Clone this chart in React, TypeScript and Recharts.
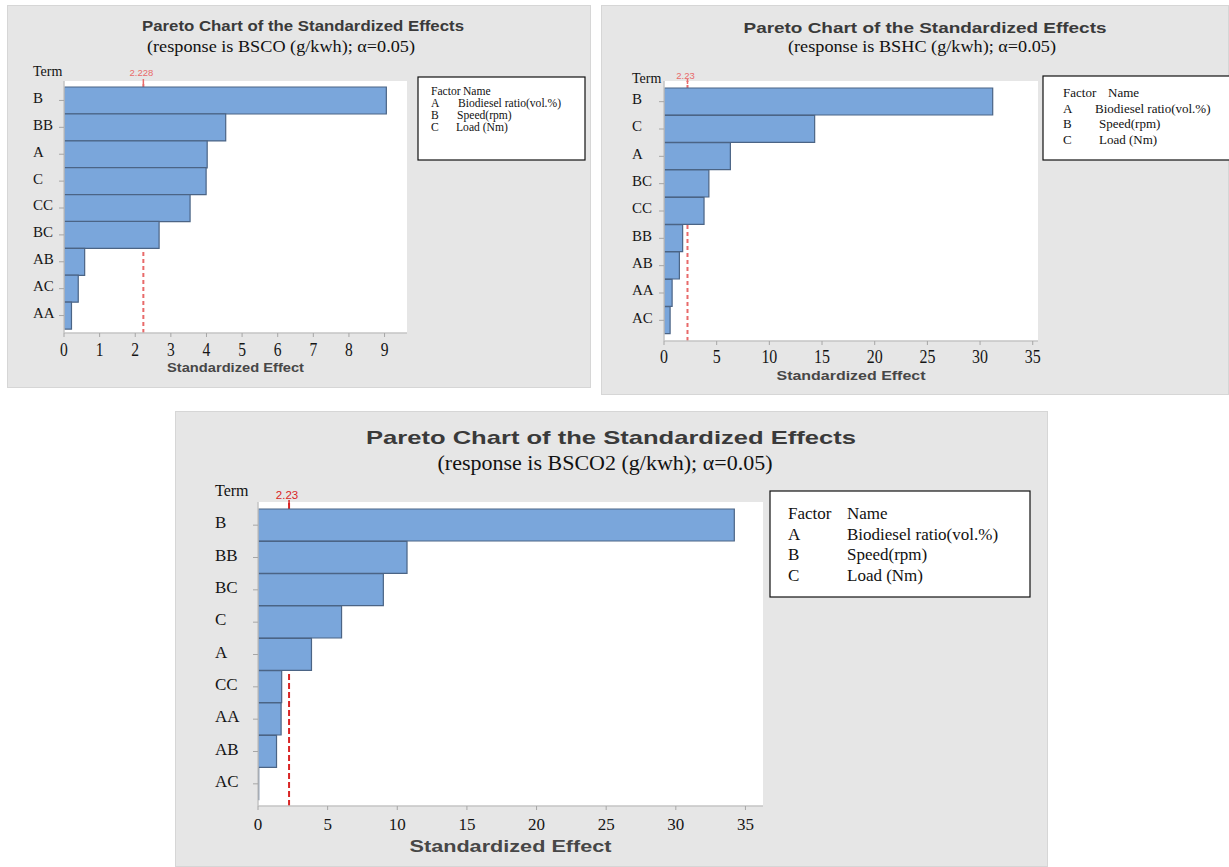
import React from 'react';
import { BarChart, Bar, XAxis, YAxis, ReferenceLine, CartesianGrid, Label } from 'recharts';

// Standardized effects per response, sorted from largest to smallest
const bscoTerms = ['B', 'BB', 'A', 'C', 'CC', 'BC', 'AB', 'AC', 'AA'];
const bscoEffects = [9.05, 4.54, 4.02, 3.99, 3.54, 2.67, 0.58, 0.4, 0.21];

const bshcTerms = ['B', 'C', 'A', 'BC', 'CC', 'BB', 'AB', 'AA', 'AC'];
const bshcEffects = [31.2, 14.3, 6.3, 4.26, 3.8, 1.77, 1.46, 0.77, 0.58];

const bsco2Terms = ['B', 'BB', 'BC', 'C', 'A', 'CC', 'AA', 'AB', 'AC'];
const bsco2Effects = [34.2, 10.7, 9.0, 6.0, 3.84, 1.7, 1.66, 1.33, 0.05];

const ticksSmall = [0, 1, 2, 3, 4, 5, 6, 7, 8, 9];
const ticksLarge = [0, 5, 10, 15, 20, 25, 30, 35];

const factorCodes = ['A', 'B', 'C'];
const factorNames = ['Biodiesel ratio(vol.%)', 'Speed(rpm)', 'Load (Nm)'];

const SERIF = '"Liberation Serif", "Times New Roman", serif';
const SANS = '"Liberation Sans", Arial, sans-serif';
const FRAME = '#c4c4c4';
const TICK = '#a6a6a6';
const BAR_FILL = '#7aa6db';
const BAR_EDGE = '#4b6485';

type Layout = {
  box: { left: number; top: number; width: number; height: number };
  plot: { left: number; top: number; right: number; bottom: number; padTop: number; padBottom: number };
  axisTitle: { baseline: number; size: number; length: number };
  xTick: { size: number; scaleX: number; baseline: number };
  yTick: { x: number; size: number; lift: number };
  title: { cx: number; baseline: number; size: number; length: number };
  subtitle: { cx: number; baseline: number; size: number; length: number };
  term: { x: number; baseline: number; size: number };
  legend: {
    x: number; y: number; width: number; height: number; size: number;
    codeX: number; headerNameX: number; nameX: number[]; rows: number[];
  };
  critical: { color: string; dash: string; width: number; labelSize: number; labelGap: number };
};

type PanelProps = {
  response: string;
  terms: string[];
  effects: number[];
  ticks: number[];
  xMax: number;
  critical: number;
  criticalText: string;
  layout: Layout;
};

function ParetoPanel({ response, terms, effects, ticks, xMax, critical, criticalText, layout }: PanelProps) {
  const { box, plot, axisTitle, xTick, yTick, title, subtitle, term, legend } = layout;
  const crit = layout.critical;
  const rows = terms.map((t, i) => ({ term: t, effect: effects[i] }));

  const renderXTick = (p: any) => (
    <text
      transform={`translate(${p.x},${p.y + xTick.baseline}) scale(${xTick.scaleX},1)`}
      textAnchor="middle"
      fontFamily={SERIF}
      fontSize={xTick.size}
      fill="#151515"
    >
      {p.payload.value}
    </text>
  );

  const renderYTick = (p: any) => (
    <text
      x={yTick.x}
      y={p.y + yTick.size * 0.33 - yTick.lift}
      textAnchor="start"
      fontFamily={SERIF}
      fontSize={yTick.size}
      fill="#151515"
    >
      {p.payload.value}
    </text>
  );

  const renderAxisTitle = (p: any) => {
    const vb = p.viewBox;
    return (
      <text
        x={vb.x + vb.width / 2}
        y={vb.y + vb.height}
        textAnchor="middle"
        fontFamily={SANS}
        fontWeight="bold"
        fontSize={axisTitle.size}
        fill="#474747"
        textLength={axisTitle.length}
        lengthAdjust="spacingAndGlyphs"
      >
        Standardized Effect
      </text>
    );
  };

  const renderCriticalLabel = (p: any) => {
    const vb = p.viewBox;
    return (
      <g>
        <line x1={vb.x} x2={vb.x} y1={vb.y - 2} y2={vb.y + 3} stroke={crit.color} strokeWidth={1.5} />
        <text
          x={vb.x - 2}
          y={vb.y - crit.labelGap}
          textAnchor="middle"
          fontFamily={SANS}
          fontSize={crit.labelSize}
          fill={crit.color}
        >
          {criticalText}
        </text>
      </g>
    );
  };

  return (
    <div
      style={{
        position: 'absolute',
        left: box.left,
        top: box.top,
        width: box.width,
        height: box.height,
        background: '#e6e6e6',
        boxShadow: 'inset 0 0 0 1px #d6d6d6',
        overflow: 'hidden',
      }}
    >
      <svg width={box.width} height={box.height} style={{ position: 'absolute', left: 0, top: 0 }}>
        <text
          x={title.cx}
          y={title.baseline}
          textAnchor="middle"
          fontFamily={SANS}
          fontWeight="bold"
          fontSize={title.size}
          fill="#3a3a3a"
          textLength={title.length}
          lengthAdjust="spacingAndGlyphs"
        >
          Pareto Chart of the Standardized Effects
        </text>
        <text
          x={subtitle.cx}
          y={subtitle.baseline}
          textAnchor="middle"
          fontFamily={SERIF}
          fontSize={subtitle.size}
          fill="#111"
          textLength={subtitle.length}
          lengthAdjust="spacingAndGlyphs"
        >
          {`(response is ${response}; α=0.05)`}
        </text>
        <text x={term.x} y={term.baseline} fontFamily={SERIF} fontSize={term.size} fill="#111">
          Term
        </text>
        <rect
          x={legend.x}
          y={legend.y}
          width={legend.width}
          height={legend.height}
          fill="#fff"
          stroke="#111"
          strokeWidth={1.2}
        />
        <text x={legend.codeX} y={legend.rows[0]} fontFamily={SERIF} fontSize={legend.size} fill="#111">
          Factor
        </text>
        <text x={legend.headerNameX} y={legend.rows[0]} fontFamily={SERIF} fontSize={legend.size} fill="#111">
          Name
        </text>
        {factorCodes.map((code, i) => (
          <g key={code}>
            <text x={legend.codeX} y={legend.rows[i + 1]} fontFamily={SERIF} fontSize={legend.size} fill="#111">
              {code}
            </text>
            <text x={legend.nameX[i]} y={legend.rows[i + 1]} fontFamily={SERIF} fontSize={legend.size} fill="#111">
              {factorNames[i]}
            </text>
          </g>
        ))}
      </svg>
      <div style={{ position: 'absolute', left: 0, top: 0 }}>
        <BarChart
          width={box.width}
          height={box.height}
          data={rows}
          layout="vertical"
          barCategoryGap={0}
          barGap={0}
          margin={{
            top: plot.top,
            right: box.width - plot.right,
            bottom: box.height - axisTitle.baseline,
            left: 0,
          }}
        >
          <CartesianGrid horizontal={false} vertical={false} fill="#ffffff" fillOpacity={1} />
          <XAxis
            type="number"
            domain={[0, xMax]}
            ticks={ticks}
            interval={0}
            allowDataOverflow
            height={axisTitle.baseline - plot.bottom}
            tickSize={4}
            tickMargin={2}
            axisLine={{ stroke: FRAME, strokeWidth: 1.5 }}
            tickLine={{ stroke: TICK }}
            tick={renderXTick}
          >
            <Label content={renderAxisTitle} />
          </XAxis>
          <XAxis
            xAxisId="frame"
            orientation="top"
            type="number"
            domain={[0, xMax]}
            height={0}
            tick={false}
            tickLine={false}
            axisLine={{ stroke: FRAME, strokeWidth: 1.5 }}
          />
          <YAxis
            type="category"
            dataKey="term"
            width={plot.left}
            padding={{ top: plot.padTop, bottom: plot.padBottom }}
            interval={0}
            tickSize={5}
            tickMargin={2}
            axisLine={{ stroke: FRAME, strokeWidth: 1.5 }}
            tickLine={{ stroke: TICK }}
            tick={renderYTick}
          />
          <YAxis
            yAxisId="frame"
            orientation="right"
            type="category"
            dataKey="term"
            width={0}
            tick={false}
            tickLine={false}
            axisLine={{ stroke: FRAME, strokeWidth: 1.5 }}
          />
          <ReferenceLine
            x={critical}
            stroke={crit.color}
            strokeWidth={crit.width}
            strokeDasharray={crit.dash}
            zIndex={-50}
            label={renderCriticalLabel}
          />
          <Bar
            dataKey="effect"
            fill={BAR_FILL}
            stroke={BAR_EDGE}
            strokeWidth={1.2}
            isAnimationActive={false}
          />
        </BarChart>
      </div>
    </div>
  );
}

const bscoLayout: Layout = {
  box: { left: 7, top: 5, width: 584, height: 383 },
  plot: { left: 57, top: 76, right: 400, bottom: 328, padTop: 6, padBottom: 4 },
  axisTitle: { baseline: 367, size: 12, length: 137 },
  xTick: { size: 19, scaleX: 0.82, baseline: 17.4 },
  yTick: { x: 26, size: 15, lift: 2.5 },
  title: { cx: 296, baseline: 26, size: 15, length: 322 },
  subtitle: { cx: 274, baseline: 46.5, size: 17, length: 268 },
  term: { x: 26, baseline: 70.5, size: 14 },
  legend: {
    x: 411, y: 72, width: 167, height: 83, size: 11.6,
    codeX: 424, headerNameX: 456, nameX: [451, 450, 449], rows: [90, 102, 114, 126],
  },
  critical: { color: '#e86a6a', dash: '4 3', width: 2, labelSize: 9.5, labelGap: 4.6 },
};

const bshcLayout: Layout = {
  box: { left: 601, top: 5, width: 628, height: 390 },
  plot: { left: 63, top: 76, right: 437, bottom: 336, padTop: 7, padBottom: 7 },
  axisTitle: { baseline: 375, size: 13, length: 149 },
  xTick: { size: 19, scaleX: 0.84, baseline: 16.4 },
  yTick: { x: 31, size: 15, lift: 2.5 },
  title: { cx: 324, baseline: 27.5, size: 15.4, length: 363 },
  subtitle: { cx: 321, baseline: 46.5, size: 17, length: 268 },
  term: { x: 31, baseline: 77.5, size: 14 },
  legend: {
    x: 442, y: 71, width: 250, height: 84, size: 13,
    codeX: 462, headerNameX: 507, nameX: [494, 498, 498], rows: [91.5, 107.5, 122.5, 138.5],
  },
  critical: { color: '#e86a6a', dash: '4 3', width: 2, labelSize: 9.5, labelGap: 2.5 },
};

const bsco2Layout: Layout = {
  box: { left: 175, top: 411, width: 873, height: 456 },
  plot: { left: 83, top: 91, right: 588, bottom: 395, padTop: 7, padBottom: 6 },
  axisTitle: { baseline: 441, size: 16, length: 202 },
  xTick: { size: 17, scaleX: 1, baseline: 17.8 },
  yTick: { x: 40, size: 17, lift: 2.5 },
  title: { cx: 436, baseline: 33, size: 18.6, length: 490 },
  subtitle: { cx: 430, baseline: 58.6, size: 20, length: 335 },
  term: { x: 40, baseline: 84.5, size: 16 },
  legend: {
    x: 595, y: 80, width: 260, height: 106, size: 17,
    codeX: 613, headerNameX: 672, nameX: [672, 672, 672], rows: [107.5, 128.5, 148.5, 169.5],
  },
  critical: { color: '#d92525', dash: '6 3', width: 2, labelSize: 11.5, labelGap: 3 },
};

export default function App() {
  return (
    <div
      style={{
        position: 'absolute',
        left: 0,
        top: 0,
        width: 1229,
        height: 867,
        background: '#ffffff',
        overflow: 'hidden',
      }}
    >
      <ParetoPanel
        response="BSCO (g/kwh)"
        terms={bscoTerms}
        effects={bscoEffects}
        ticks={ticksSmall}
        xMax={9.63}
        critical={2.228}
        criticalText="2.228"
        layout={bscoLayout}
      />
      <ParetoPanel
        response="BSHC (g/kwh)"
        terms={bshcTerms}
        effects={bshcEffects}
        ticks={ticksLarge}
        xMax={35.5}
        critical={2.23}
        criticalText="2.23"
        layout={bshcLayout}
      />
      <ParetoPanel
        response="BSCO2 (g/kwh)"
        terms={bsco2Terms}
        effects={bsco2Effects}
        ticks={ticksLarge}
        xMax={36.26}
        critical={2.23}
        criticalText="2.23"
        layout={bsco2Layout}
      />
    </div>
  );
}
